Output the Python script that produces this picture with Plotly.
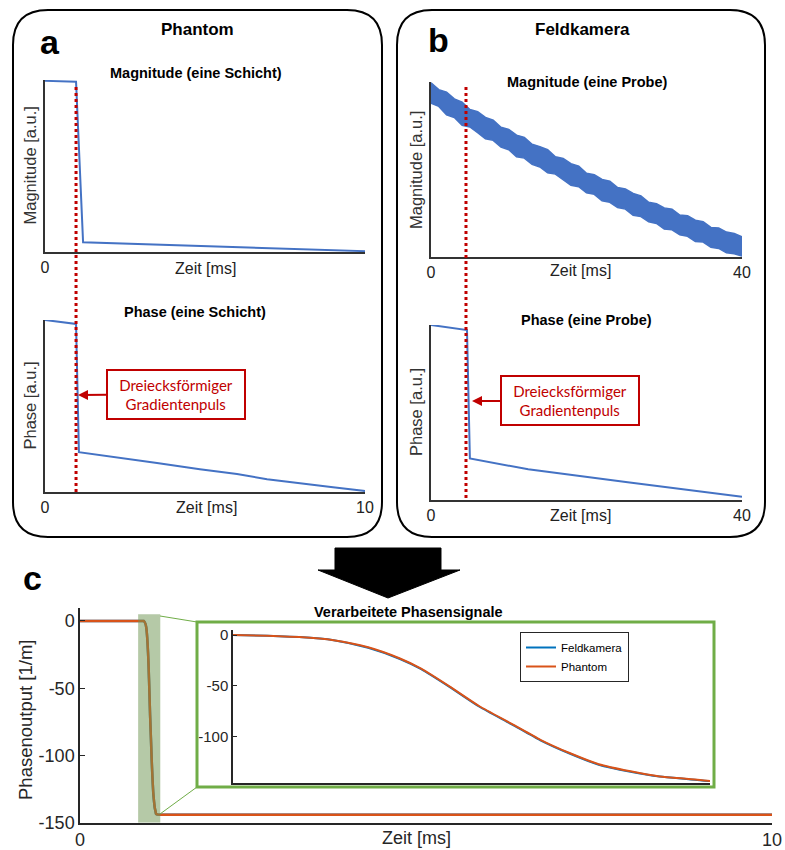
import plotly.graph_objects as go

W, H = 785, 850


def px(x):
    return x / W


def py(y):
    return 1 - y / H


# ---------------- data ----------------
# Panel a (Phantom), time in ms
a_mag_t = [0, 0.97, 1.19, 10]
a_mag_v = [0.995, 0.99, 0.052, 0.0]
a_ph_t = [0, 0.97, 1.06, 2.0, 2.75, 3.5, 4.84, 6.0, 6.94, 8.0, 9.0, 9.94, 10]
a_ph_v = [1.0, 0.977, 0.228, 0.205, 0.186, 0.165, 0.128, 0.100, 0.070, 0.048, 0.023, 0.002, 0.0]
pulse_a = 0.97

# Panel b (Feldkamera), time in ms
b_mag_t = [0, 1, 2, 3, 4, 5, 6, 7, 8, 9, 10, 11, 12, 13, 14, 15, 16, 17, 18, 19, 20,
           21, 22, 23, 24, 25, 26, 27, 28, 29, 30, 31, 32, 33, 34, 35, 36, 37, 38, 39, 40]
b_mag_upper = [0.995, 0.956, 0.942, 0.903, 0.885, 0.842, 0.829, 0.797, 0.781, 0.740, 0.728,
               0.695, 0.682, 0.642, 0.629, 0.611, 0.571, 0.561, 0.531, 0.517, 0.476,
               0.468, 0.440, 0.430, 0.394, 0.386, 0.360, 0.346, 0.309, 0.301, 0.277,
               0.270, 0.236, 0.232, 0.206, 0.198, 0.165, 0.162, 0.138, 0.130, 0.111]
b_mag_lower = [0.878, 0.860, 0.812, 0.796, 0.751, 0.742, 0.709, 0.674, 0.665, 0.626, 0.611,
               0.571, 0.563, 0.527, 0.512, 0.478, 0.471, 0.438, 0.407, 0.399, 0.363,
               0.355, 0.318, 0.309, 0.279, 0.270, 0.234, 0.227, 0.197, 0.188, 0.155,
               0.151, 0.122, 0.114, 0.084, 0.081, 0.051, 0.044, 0.019, 0.014, 0.0]
b_ph_t = [0, 4.63, 5.0, 12.5, 25.3, 40]
b_ph_v = [1.0, 0.971, 0.234, 0.171, 0.097, 0.013]
pulse_b = 4.5

# Panel c (processed phase signals), time in ms, value in 1/m
c_t = [0, 0.5, 0.90, 0.92, 0.945, 0.958, 0.971, 0.983, 0.991, 1.002, 1.013, 1.025, 1.036,
       1.047, 1.058, 1.070, 1.081, 1.092, 1.100, 1.13, 1.5, 5.0, 10.0]
c_phantom = [0, 0, 0, 0, -2, -5, -12, -23, -33, -51, -70, -87, -103,
             -116, -127, -134, -139, -141.5, -143.5, -144, -144, -144, -144]
c_feldkamera = [0, 0, 0, 0, -2, -5, -12.5, -23.5, -33.5, -51.5, -70.5, -87.5, -103.5,
                -116.5, -127.5, -134.5, -139.2, -141.7, -143.6, -144, -144, -144, -144]
zoom_t = [0.84, 1.16]
zoom_v = [-150, 5]

main_yticks = [0, -50, -100, -150]
main_yticklabels = ["0", "-50", "-100", "-150"]
inset_yticks = [0, -50, -100]
inset_yticklabels = ["0", "-50", "-100"]

# ---------------- style ----------------
FONT = "Liberation Sans, Arial, sans-serif"
BLUE_PPT = "#4472C4"
RED = "#C00000"
M_BLUE = "#0072BD"
M_ORANGE = "#D95319"
GREEN = "#70AD47"
AX = "#262626"

fig = go.Figure()

# panel a
fig.add_trace(go.Scatter(x=a_mag_t, y=a_mag_v, mode="lines", line=dict(color=BLUE_PPT, width=2),
                         xaxis="x", yaxis="y", showlegend=False))
fig.add_trace(go.Scatter(x=a_ph_t, y=a_ph_v, mode="lines", line=dict(color=BLUE_PPT, width=2),
                         xaxis="x2", yaxis="y2", showlegend=False))
# panel b
fig.add_trace(go.Scatter(x=b_mag_t, y=b_mag_upper, mode="lines", line=dict(color=BLUE_PPT, width=1.5),
                         xaxis="x3", yaxis="y3", showlegend=False))
fig.add_trace(go.Scatter(x=b_mag_t, y=b_mag_lower, mode="lines", line=dict(color=BLUE_PPT, width=1.5),
                         fill="tonexty", fillcolor=BLUE_PPT,
                         xaxis="x3", yaxis="y3", showlegend=False))
fig.add_trace(go.Scatter(x=b_ph_t, y=b_ph_v, mode="lines", line=dict(color=BLUE_PPT, width=2),
                         xaxis="x4", yaxis="y4", showlegend=False))
# panel c main
fig.add_trace(go.Scatter(x=c_t, y=c_feldkamera, mode="lines",
                         line=dict(color=M_BLUE, width=2.5, shape="spline", smoothing=0.6),
                         xaxis="x5", yaxis="y5", showlegend=False))
fig.add_trace(go.Scatter(x=c_t, y=c_phantom, mode="lines",
                         line=dict(color=M_ORANGE, width=2.5, shape="spline", smoothing=0.6),
                         xaxis="x5", yaxis="y5", showlegend=False))
# panel c inset
fig.add_trace(go.Scatter(x=c_t, y=c_feldkamera, mode="lines", name="Feldkamera",
                         line=dict(color=M_BLUE, width=2, shape="spline", smoothing=0.6),
                         xaxis="x6", yaxis="y6"))
fig.add_trace(go.Scatter(x=c_t, y=c_phantom, mode="lines", name="Phantom",
                         line=dict(color=M_ORANGE, width=2, shape="spline", smoothing=0.6),
                         xaxis="x6", yaxis="y6"))


def ax(**kw):
    d = dict(showgrid=False, zeroline=False, showline=True, linecolor="#333333", linewidth=1.5,
             ticks="", fixedrange=True, automargin=False,
             tickfont=dict(family=FONT, size=16, color="#222222"))
    d.update(kw)
    return d


layout_axes = dict(
    xaxis=ax(domain=[px(45), px(365)], range=[0, 10], anchor="y", tickvals=[0], ticktext=["0"]),
    yaxis=ax(domain=[py(252), py(80)], range=[-0.005, 1.0], anchor="x", showticklabels=False),
    xaxis2=ax(domain=[px(45), px(365)], range=[0, 10], anchor="y2", tickvals=[0, 10], ticktext=["0", "10"]),
    yaxis2=ax(domain=[py(492), py(320)], range=[-0.005, 1.0], anchor="x2", showticklabels=False),
    xaxis3=ax(domain=[px(431), px(742)], range=[0, 40], anchor="y3", tickvals=[0, 40], ticktext=["0", "40"]),
    yaxis3=ax(domain=[py(257), py(82)], range=[-0.005, 1.0], anchor="x3", showticklabels=False,
              layer="below traces"),
    xaxis4=ax(domain=[px(431), px(742)], range=[0, 40], anchor="y4", tickvals=[0, 40], ticktext=["0", "40"]),
    yaxis4=ax(domain=[py(500), py(325)], range=[-0.005, 1.0], anchor="x4", showticklabels=False),
    xaxis5=ax(domain=[px(80), px(772)], range=[0, 10], anchor="y5", tickvals=[0, 10], ticktext=["0", "10"],
              linecolor=AX, ticks="inside", ticklen=5, tickcolor=AX,
              tickfont=dict(family=FONT, size=18, color=AX)),
    yaxis5=ax(domain=[py(822.7), py(607.5)], range=[-150, 10], anchor="x5",
              tickvals=main_yticks, ticktext=main_yticklabels,
              linecolor=AX, ticks="inside", ticklen=5, tickcolor=AX,
              tickfont=dict(family=FONT, size=18, color=AX)),
    xaxis6=ax(domain=[px(233), px(710)], range=[0.92, 1.10], anchor="y6", showticklabels=False,
              linecolor=AX),
    yaxis6=ax(domain=[py(782.5), py(630)], range=[-145, 5], anchor="x6",
              tickvals=inset_yticks, ticktext=inset_yticklabels,
              linecolor=AX, ticks="inside", ticklen=4, tickcolor=AX,
              tickfont=dict(family=FONT, size=15, color=AX)),
)


def rounded_box(x0, y0, x1, y1, r):
    pts = [
        ("M", [(x0 + r, y0)]), ("L", [(x1 - r, y0)]), ("Q", [(x1, y0), (x1, y0 + r)]),
        ("L", [(x1, y1 - r)]), ("Q", [(x1, y1), (x1 - r, y1)]),
        ("L", [(x0 + r, y1)]), ("Q", [(x0, y1), (x0, y1 - r)]),
        ("L", [(x0, y0 + r)]), ("Q", [(x0, y0), (x0 + r, y0)]),
    ]
    s = ""
    for cmd, ps in pts:
        s += cmd + " " + " ".join(f"{px(a):.5f},{py(b):.5f}" for a, b in ps) + " "
    return s + "Z"


def poly(points):
    s = "M " + " L ".join(f"{px(a):.5f},{py(b):.5f}" for a, b in points)
    return s + " Z"


shapes = [
    dict(type="path", xref="paper", yref="paper", path=rounded_box(13, 10, 382, 537, 35),
         line=dict(color="black", width=2), layer="below"),
    dict(type="path", xref="paper", yref="paper", path=rounded_box(397, 10, 765, 537, 35),
         line=dict(color="black", width=2), layer="below"),
    # pulse markers
    dict(type="line", xref="x", yref="paper", x0=pulse_a, x1=pulse_a, y0=py(87), y1=py(492),
         line=dict(color=RED, width=3, dash="dot")),
    dict(type="line", xref="x3", yref="paper", x0=pulse_b, x1=pulse_b, y0=py(87), y1=py(500),
         line=dict(color=RED, width=3, dash="dot")),
    # big arrow
    dict(type="path", xref="paper", yref="paper",
         path=poly([(335, 548), (441, 548), (441, 570), (460, 570), (388, 598), (318, 570), (335, 570)]),
         fillcolor="black", line=dict(color="black", width=1)),
    # zoom region in main plot
    dict(type="rect", xref="x5", yref="y5", x0=zoom_t[0], x1=zoom_t[1], y0=zoom_v[0], y1=zoom_v[1],
         fillcolor="rgb(107,147,79)", opacity=0.5, line=dict(width=0), layer="above"),
    # connectors
    dict(type="line", xref="paper", yref="paper", x0=px(160), y0=py(616), x1=px(197), y1=py(622),
         line=dict(color=GREEN, width=1)),
    dict(type="line", xref="paper", yref="paper", x0=px(160), y0=py(814), x1=px(197), y1=py(787),
         line=dict(color=GREEN, width=1)),
    # inset frame
    dict(type="rect", xref="paper", yref="paper", x0=px(197), x1=px(714), y0=py(787), y1=py(622),
         line=dict(color=GREEN, width=3), fillcolor="rgba(0,0,0,0)"),
]


def txt(x, y, s, size, bold=False, color="#222222", angle=0, family=FONT):
    return dict(x=px(x), y=py(y), xref="paper", yref="paper", text=f"<b>{s}</b>" if bold else s,
                showarrow=False, xanchor="center", yanchor="middle", textangle=angle,
                font=dict(family=family, size=size, color=color))


annotations = [
    txt(50, 42, "a", 34, bold=True, color="black"),
    txt(438, 40, "b", 34, bold=True, color="black"),
    txt(32, 578, "c", 34, bold=True, color="black"),
    txt(197, 30, "Phantom", 17, bold=True, color="black"),
    txt(582, 30, "Feldkamera", 17, bold=True, color="black"),
    txt(196, 73, "Magnitude (eine Schicht)", 14.5, bold=True, color="black"),
    txt(195, 312, "Phase (eine Schicht)", 14.5, bold=True, color="black"),
    txt(587, 82, "Magnitude (eine Probe)", 14.5, bold=True, color="black"),
    txt(586, 320, "Phase (eine Probe)", 14.5, bold=True, color="black"),
    txt(408, 612, "Verarbeitete Phasensignale", 14.5, bold=True, color="black"),
    txt(205, 268, "Zeit [ms]", 16),
    txt(206, 507, "Zeit [ms]", 16),
    txt(580, 270, "Zeit [ms]", 16),
    txt(580, 515, "Zeit [ms]", 16),
    txt(29.5, 166, "Magnitude [a.u.]", 16.5, angle=-90, color="#333333"),
    txt(29.5, 406, "Phase [a.u.]", 16.5, angle=-90, color="#333333"),
    txt(416, 170, "Magnitude [a.u.]", 16.5, angle=-90, color="#333333"),
    txt(416, 412, "Phase [a.u.]", 16.5, angle=-90, color="#333333"),
    txt(416, 838, "Zeit [ms]", 18, color=AX),
    txt(25, 720, "Phasenoutput [1/m]", 18.5, angle=-90, color=AX),
]

for tip, center in [((78, 395), (176, 394.5)), ((472, 401), (569.5, 401))]:
    annotations.append(dict(
        x=px(tip[0]), y=py(tip[1]), xref="paper", yref="paper",
        ax=center[0] - tip[0], ay=center[1] - tip[1], axref="pixel", ayref="pixel",
        text="Dreiecksförmiger<br>Gradientenpuls", showarrow=True,
        arrowhead=2, arrowsize=1, arrowwidth=2, arrowcolor=RED,
        font=dict(family="Lato, sans-serif", size=15, color=RED),
        bgcolor="white", bordercolor=RED, borderwidth=2, borderpad=4,
        width=128, height=39, align="center",
    ))

fig.update_layout(
    width=W, height=H, margin=dict(l=0, r=0, t=0, b=0, autoexpand=False),
    paper_bgcolor="white", plot_bgcolor="rgba(0,0,0,0)",
    shapes=shapes, annotations=annotations,
    legend=dict(x=px(520), y=py(632), xanchor="left", yanchor="top", bgcolor="white",
                bordercolor=AX, borderwidth=1, font=dict(family=FONT, size=11.5, color="black"),
                itemwidth=30, tracegroupgap=0, traceorder="normal"),
    **layout_axes,
)

fig.write_html("out.html")
